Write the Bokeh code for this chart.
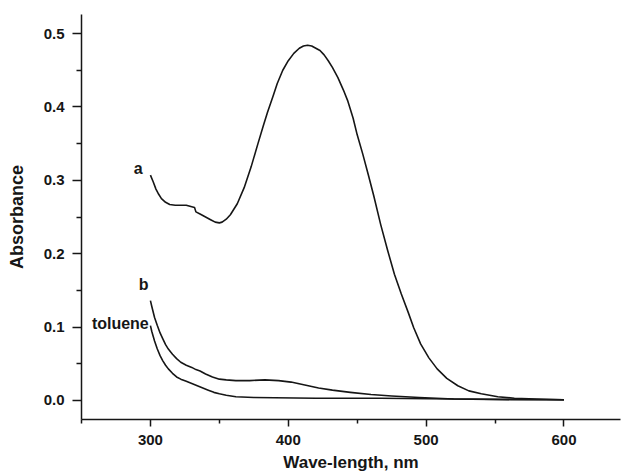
from bokeh.plotting import figure
from bokeh.models import FixedTicker, Range1d, PrintfTickFormatter
from bokeh.core.properties import value
from bokeh.embed import file_html
from bokeh.resources import INLINE

# Curve a
a_nm = [300, 302, 304, 306, 308, 311, 314, 318, 322, 326, 330, 332, 333, 336, 340, 344, 347,
        350, 352, 355, 358, 363, 368, 373, 378, 382, 385, 389, 392, 396, 400, 404, 408, 411,
        414, 417, 420, 423, 426, 429, 432, 436, 440, 443, 447, 450, 454, 458, 462, 467, 472,
        477, 482, 487, 491, 496, 502, 508, 515, 523, 531, 540, 552, 564, 580, 600]
a_abs = [0.307, 0.298, 0.288, 0.281, 0.275, 0.270, 0.267, 0.266, 0.266, 0.266, 0.264, 0.263,
         0.257, 0.254, 0.250, 0.246, 0.243, 0.242, 0.243, 0.247, 0.253, 0.268, 0.290, 0.318,
         0.350, 0.375, 0.393, 0.415, 0.432, 0.450, 0.463, 0.473, 0.480, 0.483, 0.484, 0.483,
         0.480, 0.477, 0.471, 0.463, 0.454, 0.440, 0.423, 0.409, 0.385, 0.362, 0.336, 0.308,
         0.279, 0.240, 0.205, 0.172, 0.145, 0.120, 0.099, 0.077, 0.058, 0.043, 0.030, 0.020,
         0.013, 0.009, 0.005, 0.003, 0.002, 0.001]

# Curve b
b_nm = [300, 301, 303, 305, 307, 309, 311, 313, 316, 319, 322, 326, 330, 333, 336, 340, 345,
        350, 355, 362, 372, 383, 393, 402, 412, 422, 432, 445, 460, 475, 495, 520, 560, 600]
b_abs = [0.136, 0.128, 0.113, 0.102, 0.092, 0.084, 0.076, 0.070, 0.063, 0.057, 0.052, 0.048,
         0.045, 0.042, 0.040, 0.036, 0.032, 0.029, 0.028, 0.027, 0.027, 0.028, 0.027, 0.025,
         0.021, 0.017, 0.014, 0.011, 0.008, 0.006, 0.004, 0.002, 0.001, 0.001]

# Toluene
t_nm = [300, 301, 303, 305, 307, 309, 311, 313, 316, 319, 322, 326, 330, 334, 338, 342, 346,
        350, 355, 362, 375, 420, 467, 520, 600]
t_abs = [0.102, 0.094, 0.081, 0.070, 0.061, 0.054, 0.048, 0.043, 0.037, 0.032, 0.029, 0.026,
         0.023, 0.020, 0.017, 0.014, 0.011, 0.009, 0.007, 0.005, 0.004, 0.003, 0.003, 0.002,
         0.001]

x_ticks = [300, 400, 500, 600]
x_minor = [250, 350, 450, 550]
y_ticks = [0.0, 0.1, 0.2, 0.3, 0.4, 0.5]
y_minor = [0.05, 0.15, 0.25, 0.35, 0.45]

curve_labels = ["a", "b", "toluene"]
label_x = [291.2, 295.0, 298.8]
label_y = [0.316, 0.158, 0.105]

FONT = "Liberation Sans"
INK = "#161616"

p = figure(width=622, height=474, output_backend="svg", toolbar_location=None,
           x_range=Range1d(250, 641), y_range=Range1d(-0.026, 0.526),
           min_border_left=81, min_border_top=14, min_border_right=2, min_border_bottom=53)
p.outline_line_color = None
p.grid.visible = False
p.background_fill_color = "white"

for xs, ys in [(a_nm, a_abs), (b_nm, b_abs), (t_nm, t_abs)]:
    p.line(xs, ys, line_color=INK, line_width=1.6, line_join="round")

p.text(x=label_x[:2], y=label_y[:2], text=curve_labels[:2], text_font=value(FONT),
       text_font_style="bold", text_font_size="16px", text_color=INK,
       text_align="center", text_baseline="middle")
p.text(x=label_x[2:], y=label_y[2:], text=curve_labels[2:], text_font=value(FONT),
       text_font_style="bold", text_font_size="16px", text_color=INK,
       text_align="right", text_baseline="middle")

p.xaxis.ticker = FixedTicker(ticks=x_ticks, minor_ticks=x_minor)
p.yaxis.ticker = FixedTicker(ticks=y_ticks, minor_ticks=y_minor)
p.yaxis.formatter = PrintfTickFormatter(format="%.1f")

for ax in (p.xaxis, p.yaxis):
    ax.axis_line_color = INK
    ax.axis_line_width = 1.5
    ax.major_tick_line_color = INK
    ax.major_tick_line_width = 1.5
    ax.minor_tick_line_color = INK
    ax.minor_tick_line_width = 1.5
    ax.major_tick_in = 0
    ax.minor_tick_in = 0
    ax.major_label_text_font = FONT
    ax.major_label_text_font_style = "bold"
    ax.major_label_text_font_size = "15px"
    ax.major_label_text_color = INK
    ax.axis_label_text_font = FONT
    ax.axis_label_text_font_style = "bold"
    ax.axis_label_text_color = INK

p.xaxis.major_tick_out = 7
p.xaxis.minor_tick_out = 4
p.yaxis.major_tick_out = 9
p.yaxis.minor_tick_out = 5
p.xaxis.major_label_standoff = 8
p.yaxis.major_label_standoff = 8
p.xaxis.axis_label = "Wave-length, nm"
p.yaxis.axis_label = "Absorbance"
p.xaxis.axis_label_text_font_size = "17px"
p.yaxis.axis_label_text_font_size = "18px"
p.xaxis.axis_label_standoff = 5
p.yaxis.axis_label_standoff = 14

open("out.html", "w").write(file_html(p, INLINE))
